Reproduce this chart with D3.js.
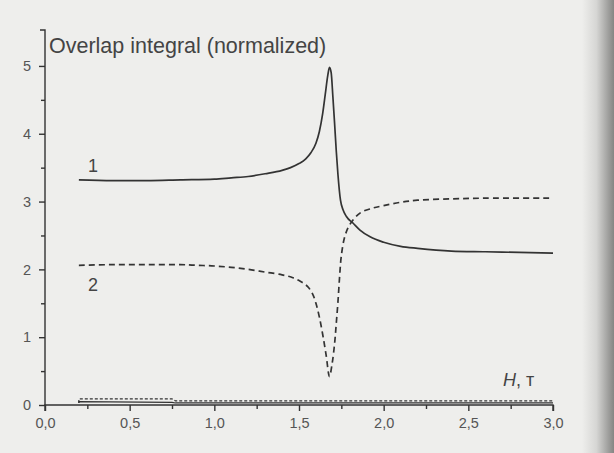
<!DOCTYPE html>
<html>
<head>
<meta charset="utf-8">
<script src="https://cdn.jsdelivr.net/npm/d3@7/dist/d3.min.js"></script>
<style>
  body { margin: 0; background: #eeeeec; }
  svg { display: block; }
</style>
</head>
<body>
<svg width="614" height="453"></svg>
<script>
// curve 1 (solid)
const h1 = [0.2, 0.4, 0.6, 0.8, 1.0, 1.1, 1.2, 1.3, 1.4, 1.45, 1.5, 1.54, 1.57, 1.60, 1.62, 1.64, 1.655, 1.67, 1.68, 1.69, 1.70, 1.71, 1.72, 1.73, 1.745, 1.76, 1.78, 1.82, 1.86, 1.92, 2.0, 2.1, 2.2, 2.4, 2.6, 2.8, 3.0];
const v1 = [3.32, 3.31, 3.31, 3.32, 3.33, 3.35, 3.37, 3.41, 3.46, 3.50, 3.56, 3.63, 3.72, 3.86, 4.03, 4.30, 4.58, 4.86, 4.98, 4.90, 4.55, 4.16, 3.75, 3.40, 3.02, 2.88, 2.78, 2.68, 2.58, 2.48, 2.40, 2.34, 2.31, 2.27, 2.26, 2.25, 2.24];
// curve 2 (dashed)
const h2 = [0.2, 0.4, 0.6, 0.8, 0.9, 1.0, 1.1, 1.2, 1.3, 1.4, 1.46, 1.51, 1.55, 1.58, 1.60, 1.62, 1.64, 1.66, 1.68, 1.695, 1.71, 1.72, 1.73, 1.74, 1.75, 1.77, 1.80, 1.86, 1.93, 2.0, 2.1, 2.2, 2.4, 2.6, 3.0];
const v2 = [2.06, 2.07, 2.07, 2.07, 2.06, 2.05, 2.03, 2.00, 1.96, 1.92, 1.88, 1.82, 1.75, 1.64, 1.50, 1.30, 1.04, 0.74, 0.42, 0.60, 0.90, 1.20, 1.52, 1.90, 2.20, 2.48, 2.66, 2.83, 2.90, 2.94, 2.99, 3.02, 3.04, 3.05, 3.05];
// near-zero traces
const hLow = [0.2, 0.2, 0.75, 0.77, 3.0];
const vLowDash = [0.03, 0.09, 0.09, 0.06, 0.06];
const vLowSolid = [0.03, 0.05, 0.04, 0.03, 0.03];

const xTicks = [0, 0.5, 1.0, 1.5, 2.0, 2.5, 3.0];
const yTicks = [0, 1, 2, 3, 4, 5];

const svg = d3.select("svg");

// paper + dark right edge of the scan
const defs = svg.append("defs");
const grad = defs.append("linearGradient").attr("id", "edge");
grad.append("stop").attr("offset", "0").attr("stop-color", "#eeeeec");
grad.append("stop").attr("offset", "0.45").attr("stop-color", "#d6d6d4");
grad.append("stop").attr("offset", "1").attr("stop-color", "#858583");
svg.append("rect").attr("width", 614).attr("height", 453).attr("fill", "#eeeeec");
svg.append("rect").attr("x", 582).attr("width", 32).attr("height", 453).attr("fill", "url(#edge)");

const x = d3.scaleLinear().domain([0, 3]).range([45, 553]);
const y = d3.scaleLinear().domain([0, 5.53]).range([405, 30]);

const ink = "#333";
const font = "'Liberation Sans', Arial, sans-serif";

// x axis
const xAxis = svg.append("g").attr("transform", `translate(0,${y(0)})`)
    .call(d3.axisBottom(x).tickValues(xTicks).tickSize(6).tickPadding(7)
        .tickFormat(d => d3.format(".1f")(d).replace(".", ",")));
svg.append("g").attr("transform", `translate(0,${y(0)})`)
    .call(d3.axisBottom(x).tickValues(d3.range(0.25, 3, 0.5)).tickSize(4).tickFormat(""))
    .select(".domain").remove();

// y axis
const yAxis = svg.append("g").attr("transform", `translate(${x(0)},0)`)
    .call(d3.axisLeft(y).tickValues(yTicks).tickSize(6).tickPadding(8).tickFormat(d3.format("d")));
svg.append("g").attr("transform", `translate(${x(0)},0)`)
    .call(d3.axisLeft(y).tickValues([0.5, 1.5, 2.5, 3.5, 4.5]).tickSize(4).tickFormat(""))
    .select(".domain").remove();

svg.selectAll(".domain, .tick line").attr("stroke", ink).attr("stroke-width", 1.4);
svg.selectAll(".tick text").attr("fill", "#555")
    .style("font-family", font).style("font-size", "14.5px");
xAxis.selectAll(".domain").attr("d", `M${x(0)},6V0H${x(3)}V6`);
yAxis.selectAll(".domain").attr("d", `M-5,${y(5.53)}H0V${y(0)}`);

const line = d3.line().x(d => x(d[0])).y(d => y(d[1])).curve(d3.curveMonotoneX);
const lineLin = d3.line().x(d => x(d[0])).y(d => y(d[1]));

svg.append("path").attr("d", line(d3.zip(h1, v1)))
    .attr("fill", "none").attr("stroke", ink).attr("stroke-width", 1.7);
svg.append("path").attr("d", d3.line().x(d => x(d[0])).y(d => y(d[1])).curve(d3.curveCatmullRom)(d3.zip(h2, v2)))
    .attr("fill", "none").attr("stroke", ink).attr("stroke-width", 1.7)
    .attr("stroke-dasharray", "6,4");
svg.append("path").attr("d", lineLin(d3.zip(hLow, vLowDash)))
    .attr("fill", "none").attr("stroke", ink).attr("stroke-width", 1.2)
    .attr("stroke-dasharray", "3,2");
svg.append("path").attr("d", lineLin(d3.zip(hLow, vLowSolid)))
    .attr("fill", "none").attr("stroke", ink).attr("stroke-width", 1.2);

// texts
svg.append("text").attr("x", 49).attr("y", 53)
    .attr("font-family", font).attr("font-size", 21.5).attr("fill", "#444")
    .text("Overlap integral (normalized)");
svg.append("text").attr("x", 88).attr("y", 172)
    .attr("font-family", font).attr("font-size", 18).attr("fill", "#444").text("1");
svg.append("text").attr("x", 88).attr("y", 291)
    .attr("font-family", font).attr("font-size", 18).attr("fill", "#444").text("2");
const hl = svg.append("text").attr("x", 503).attr("y", 386)
    .attr("font-family", font).attr("font-size", 18).attr("fill", "#444");
hl.append("tspan").attr("font-style", "italic").text("H");
hl.append("tspan").text(", т");
</script>
</body>
</html>
